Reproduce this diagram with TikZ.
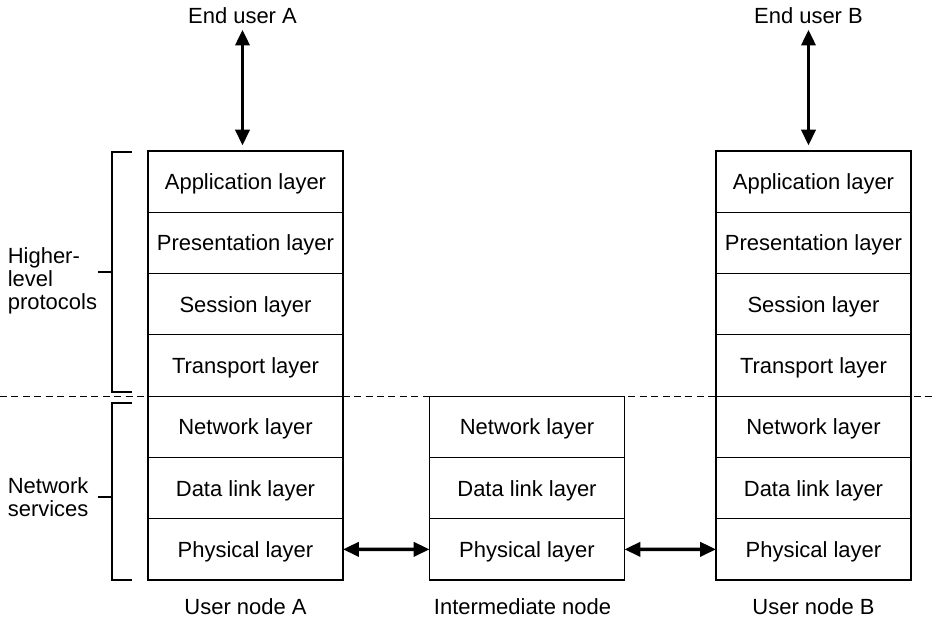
\documentclass[tikz,border=0pt]{standalone}
\usepackage{fontspec}
\setmainfont{Liberation Sans}
\usetikzlibrary{positioning,arrows.meta}

\begin{document}
\begin{tikzpicture}[
        layer/.style={rectangle, draw=black, line width=0.6pt, minimum width=3.9cm, minimum height=1.2257cm, inner sep=0pt, outer sep=0pt, text depth=0pt, font=\fontsize{12.5}{13}\selectfont},
        txt/.style={inner sep=2pt, font=\fontsize{12.5}{13}\selectfont},
        link/.style={{Triangle[length=9pt,width=8pt]}-{Triangle[length=9pt,width=8pt]}, line width=2pt},
        node distance=0pt
    ]

    \useasboundingbox (0,0) rectangle (18.72,12.5);

    % User node A
    \node[layer] (A1) at (4.91,8.867) {Application layer};
    \node[layer, below=of A1] (A2) {Presentation layer};
    \node[layer, below=of A2] (A3) {Session layer};
    \node[layer, below=of A3] (A4) {Transport layer};
    \node[layer, below=of A4] (A5) {Network layer};
    \node[layer, below=of A5] (A6) {Data link layer};
    \node[layer, below=of A6] (A7) {Physical layer};

    % Intermediate node
    \node[layer] (I1) at (10.54,3.964) {Network layer};
    \node[layer, below=of I1] (I2) {Data link layer};
    \node[layer, below=of I2] (I3) {Physical layer};

    % User node B
    \node[layer] (B1) at (16.27,8.867) {Application layer};
    \node[layer, below=of B1] (B2) {Presentation layer};
    \node[layer, below=of B2] (B3) {Session layer};
    \node[layer, below=of B3] (B4) {Transport layer};
    \node[layer, below=of B4] (B5) {Network layer};
    \node[layer, below=of B5] (B6) {Data link layer};
    \node[layer, below=of B6] (B7) {Physical layer};

    % dashed split
    \coordinate (DL) at (0,4.577);
    \coordinate (DR) at (18.72,4.577);
    \draw[dashed, dash pattern=on 4pt off 2.5pt, line width=0.6pt] (DL) -- (DR);

    % end users
    \node[txt] (EA) at (4.85,12.18) {End user A};
    \node[txt] (EB) at (16.17,12.18) {End user B};
    \draw[link, shorten <=1pt, shorten >=0.11cm] (EA.south) -- (EA |- A1.north);
    \draw[link, shorten <=1pt, shorten >=0.11cm] (EB.south) -- (EB |- B1.north);
    \draw[link] (A7) -- (I3);
    \draw[link] (I3) -- (B7);

    % node names
    \node[txt] (UA) at (4.91,0.36) {User node A};
    \node[txt] (UI) at (10.45,0.36) {Intermediate node};
    \node[txt] (UB) at (16.27,0.36) {User node B};

    % brackets
    \draw[line width=0.6pt] (2.64,9.46) -- (2.24,9.46) -- (2.24,4.66) -- (2.64,4.66);
    \draw[line width=0.6pt] (2.24,7.06) -- (1.96,7.06);
    \draw[line width=0.6pt] (2.64,4.44) -- (2.24,4.44) -- (2.24,0.9) -- (2.64,0.9);
    \draw[line width=0.6pt] (2.24,2.56) -- (1.96,2.56);
    \node[txt, anchor=west, align=left] (HL) at (0.08,6.88) {Higher-\\level\\protocols};
    \node[txt, anchor=west, align=left] (NS) at (0.08,2.56) {Network\\services};

\end{tikzpicture}
\end{document}
